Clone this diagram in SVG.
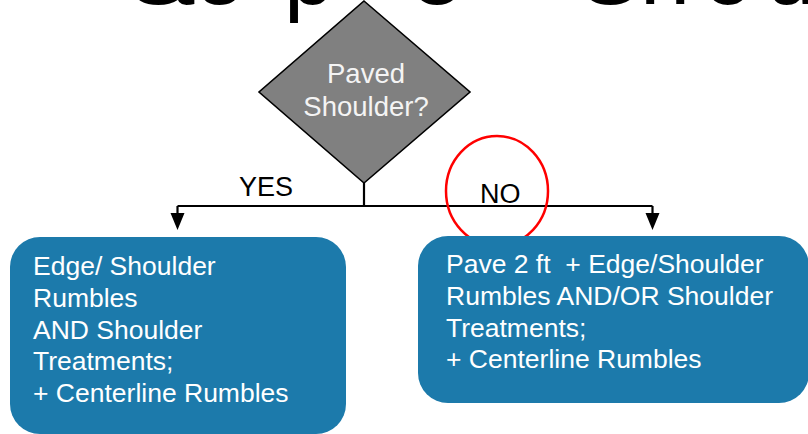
<svg xmlns="http://www.w3.org/2000/svg" width="808" height="434" viewBox="0 0 808 434">
  <style>
    .title { font-family: "Liberation Sans", Arial, sans-serif; font-size: 90px; fill: #000; }
    .lbl { font-family: "Liberation Sans", Arial, sans-serif; font-size: 27px; fill: #000; }
    .dtxt { font-family: "Liberation Sans", Arial, sans-serif; font-size: 27.5px; fill: #f4f4f4; text-anchor: middle; }
    .btxt { font-family: "Liberation Sans", Arial, sans-serif; font-size: 26.5px; fill: #ffffff; }
    .box { fill: #1c7aab; }
    .wire { fill: none; stroke: #000; stroke-width: 2.2; }
    .head { fill: #000; }
  </style>

  <!-- slide title, mostly above the visible area -->
  <g id="title">
    <text class="title" y="4" x="128 170 194 284">Step</text>
    <text class="title" x="412" y="4">3</text>
    <text class="title" x="476" y="4">–</text>
    <text class="title" y="4" x="580 640 703 766 816 836 886 936">Shoulder</text>
  </g>

  <!-- connectors -->
  <g id="connectors">
    <path class="wire" d="M364 183 V206 M177.5 206 H652.5 M177.5 206 V214 M652.5 206 V214"/>
    <polygon class="head" points="170.5,213 184.5,213 177.5,230"/>
    <polygon class="head" points="645.5,213 659.5,213 652.5,230"/>
  </g>

  <g id="decision">
    <polygon points="364,1 470,92 364,183 259,92" fill="#808080" stroke="#000" stroke-width="1.6"/>
    <text class="dtxt" x="366" y="83">Paved</text>
    <text class="dtxt" x="366" y="116">Shoulder?</text>
  </g>

  <g id="label-yes">
    <text class="lbl" x="239" y="196">YES</text>
  </g>

  <g id="label-no">
    <text class="lbl" x="480" y="203">NO</text>
  </g>

  <g id="highlight">
    <ellipse cx="497" cy="191" rx="51" ry="55" fill="none" stroke="#ff0000" stroke-width="2.5"/>
  </g>

  <g id="yes-outcome">
    <rect class="box" x="10" y="237" width="336" height="197" rx="30" ry="30"/>
    <text class="btxt" x="33" y="275">Edge/ Shoulder</text>
    <text class="btxt" x="33" y="307">Rumbles</text>
    <text class="btxt" x="33" y="339">AND Shoulder</text>
    <text class="btxt" x="33" y="370">Treatments;</text>
    <text class="btxt" x="33" y="402">+ Centerline Rumbles</text>
  </g>

  <g id="no-outcome">
    <rect class="box" x="418" y="236" width="391" height="167" rx="30" ry="30"/>
    <text class="btxt" x="446" y="273" xml:space="preserve">Pave 2 ft  + Edge/Shoulder</text>
    <text class="btxt" x="446" y="305">Rumbles AND/OR Shoulder</text>
    <text class="btxt" x="446" y="337">Treatments;</text>
    <text class="btxt" x="446" y="368">+ Centerline Rumbles</text>
  </g>
</svg>
